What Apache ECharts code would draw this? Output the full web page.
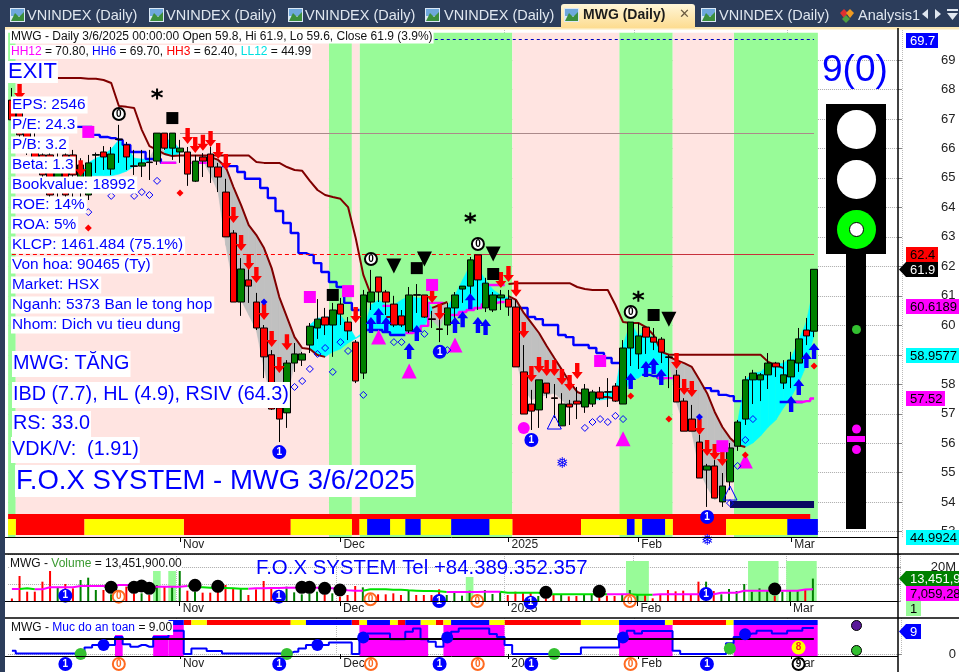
<!DOCTYPE html>
<html><head><meta charset="utf-8">
<style>html,body{margin:0;padding:0;background:#fff}#c{width:959px;height:672px}</style>
<script src="https://cdn.jsdelivr.net/npm/echarts@6/dist/echarts.min.js"></script>
</head><body><div id="c"></div>
<script>
const SLOTS = 117, BARS = 106;
const tickIndex = [22, 43, 65, 82, 102];
const tickText = ['Nov', 'Dec', '2025', 'Feb', 'Mar'];
const priceTicks = [53,54,55,56,57,58,59,60,61,62,63,64,65,66,67,68,69];

// open, close, low, high
const candles = [
[67.64,66.97,66.73,68.05],[67.30,66.46,66.22,67.81],[66.63,65.95,65.78,66.97],[66.29,65.67,65.44,66.63],[65.78,65.10,64.76,66.02],
[65.78,64.42,64.25,65.95],[64.97,65.61,64.32,65.95],[65.78,64.42,64.25,65.95],[65.78,65.10,64.32,65.95],[64.66,65.44,64.32,65.67],
[64.42,65.51,64.25,65.78],[65.77,65.79,65.17,65.86],[65.88,65.71,65.27,66.08],[65.30,65.81,65.10,66.05],[66.32,66.30,65.51,66.80],
[66.12,65.71,65.27,66.22],[65.41,65.39,65.10,65.95],[65.40,65.51,65.03,65.95],[65.54,65.52,64.93,65.95],[65.57,66.52,65.44,66.52],
[66.52,66.01,65.95,66.52],[66.01,66.52,65.61,66.52],[65.88,66.01,65.51,66.29],[65.88,65.13,64.73,66.05],[64.89,65.57,64.86,65.78],
[65.71,65.57,65.03,65.84],[65.81,65.37,64.83,66.05],[65.37,65.03,64.52,65.51],[64.52,63.00,63.00,64.97],[63.13,60.79,60.79,63.23],
[60.79,61.91,60.32,62.28],[61.54,61.33,60.76,61.91],[60.79,59.91,59.84,61.10],[59.91,58.93,58.21,60.01],[59.00,57.16,57.13,59.16],
[57.20,56.82,56.04,57.47],[57.03,58.72,56.52,58.82],[58.72,59.03,58.42,59.40],[58.82,59.03,58.62,59.10],[59.33,59.97,59.06,60.08],
[59.91,60.21,59.54,60.89],[60.28,60.01,59.67,60.59],[60.01,60.52,58.93,60.76],[60.72,60.38,60.01,60.93],[60.11,59.81,59.50,60.28],
[59.43,58.11,58.04,59.50],[58.38,61.03,58.18,61.20],[60.79,61.13,60.52,61.88],[61.64,61.13,60.79,61.64],[61.13,60.79,60.35,61.20],
[60.72,60.01,59.94,61.00],[60.32,60.01,59.94,60.52],[59.81,61.03,59.74,61.30],[61.04,61.02,60.42,61.40],[61.03,60.28,60.25,61.03],
[60.22,60.20,59.91,60.49],[59.88,59.86,59.43,60.25],[60.01,60.59,59.67,60.76],[60.59,61.03,60.18,61.13],[61.23,61.33,60.76,61.33],
[61.33,62.22,60.62,62.32],[62.39,61.54,60.52,62.39],[60.59,61.43,60.45,61.61],[60.52,61.03,60.45,61.13],[60.93,61.03,60.52,61.20],
[60.89,60.62,60.32,61.20],[60.62,58.59,58.59,60.86],[58.42,56.99,56.99,59.33],[57.33,57.09,56.45,57.81],[57.13,58.15,56.52,58.15],
[58.04,57.70,57.53,58.04],[57.54,57.52,56.86,58.01],[56.59,57.33,56.59,57.70],[57.33,57.23,56.62,57.47],[57.43,57.33,56.82,57.91],
[57.23,57.84,57.03,58.01],[57.33,57.74,57.23,57.81],[57.74,57.53,57.47,57.91],[57.75,57.73,57.23,58.21],[57.94,57.43,57.40,58.04],
[57.33,59.23,57.33,59.50],[59.23,60.11,58.62,60.11],[59.03,59.64,58.52,60.08],[59.94,59.60,59.03,59.94],[59.60,59.43,59.16,59.91],
[59.53,59.09,58.72,59.60],[58.93,58.91,57.87,59.00],[58.31,57.40,57.40,58.49],[57.43,56.41,56.41,57.53],[56.82,56.41,56.41,57.30],
[56.04,54.82,54.82,56.28],[55.09,55.23,53.84,55.30],[55.23,54.14,54.14,55.43],[54.01,54.55,53.84,54.99],[54.69,55.84,54.41,56.01],
[55.90,56.72,55.74,56.79],[56.82,58.15,56.62,58.28],[58.15,58.38,57.33,58.49],[58.15,58.32,57.43,58.38],[58.32,58.72,57.84,59.06],
[58.72,58.59,58.25,58.76],[58.04,58.32,57.84,58.82],[58.25,58.82,57.87,59.10],[58.72,59.54,58.42,59.91],[59.84,59.64,59.33,60.25],
[59.8,61.9,59.6,61.9]];

// [bar, price]
const stopUpper = [[6,68.39],[7,68.39],[8,68.39],[9,68.39],[10,68.36],[11,68.36],[12,68.32],[13,68.22],[14,67.44],[15,67.41],[16,67.37],[17,66.63],[18,66.08],[19,65.95],[20,65.81],[21,65.74],[22,65.76],[23,65.76],[24,65.76],[25,65.76],[26,65.76],[27,65.76],[28,65.76],[29,65.76],[30,65.76],[31,65.76],[32,65.54],[33,65.51],[34,65.51],[35,65.51],[36,65.37],[37,65.27],[38,65.24],[39,64.90],[40,64.59],[41,64.42],[42,64.35],[43,64.29],[44,64.01],[45,62.96],[46,61.71],[47,61.03],[49,60.28],[50,60.28],[55,60.59],[56,60.69],[57,60.79],[65,61.40],[66,61.43],[67,61.43],[68,61.43],[69,61.43],[70,61.43],[71,61.43],[72,61.43],[73,61.43],[74,61.30],[75,61.23],[76,61.20],[77,61.20],[78,61.20],[79,60.69],[80,60.11],[81,60.08],[82,60.08],[83,59.94],[84,59.67],[85,59.10],[86,59.00],[87,59.00],[88,59.00],[89,59.00],[90,59.00],[91,59.00],[92,59.00],[93,59.00],[94,59.00],[95,59.00],[96,59.00],[97,59.00],[98,59.00],[99,58.76],[100,58.65],[101,58.55]];
const stopLower = [[26,65.71],[27,65.61],[28,65.37],[29,64.69],[30,64.08],[31,63.40],[32,63.06],[33,62.62],[34,61.94],[35,60.96],[36,60.28],[37,59.60],[38,59.23],[39,59.20],[40,58.99],[41,58.93],[65,60.99],[66,60.86],[67,60.42],[68,60.08],[69,59.74],[70,59.30],[71,58.89],[72,58.49],[73,58.08],[74,57.74],[75,57.64],[76,57.60],[77,57.57],[78,57.57],[79,57.50],[86,58.93],[87,58.82],[88,58.72],[89,58.59],[90,58.15],[91,57.70],[92,57.06],[93,56.55],[94,56.18],[95,55.94],[96,55.87]];
const blueStep = [[9,66.73],[10,66.73],[11,66.46],[12,66.39],[13,66.35],[14,66.29],[15,66.12],[16,65.88],[17,65.88],[18,65.64],[19,65.64],[20,65.51],[21,65.51],[28,65.40],[29,65.40],[30,65.20],[31,64.97],[32,64.97],[33,64.66],[34,64.32],[35,63.88],[36,63.47],[37,63.13],[38,62.45],[39,62.39],[40,62.11],[41,61.81],[42,61.47],[43,61.30],[44,60.76],[45,60.52],[47,59.84],[48,59.84],[49,59.77],[50,59.67],[51,59.67],[67,60.59],[68,60.28],[69,60.21],[70,60.01],[71,60.01],[72,59.67],[73,59.60],[74,59.33],[75,59.33],[76,59.23],[77,59.06],[78,58.89],[79,58.72],[83,58.32],[84,58.28],[85,58.21],[91,57.87],[92,57.77],[93,57.64],[94,57.60],[95,57.43],[101,57.40],[102,57.40],[103,57.40]];
const magentaStep = [[20,65.51],[21,65.51],[24,65.51],[25,65.51],[49,60.66],[50,60.66],[52,59.74],[53,59.80],[54,59.98],[55,60.76],[56,60.76],[58,60.35],[59,60.45],[60,60.52],[61,60.59],[62,60.72],[63,60.76],[64,60.79],[85,58.21],[86,58.21],[103,57.40],[104,57.43],[105,57.52]];
const magentaUpper = [[62,61.37],[63,61.37],[64,61.37]];

// [bar, high, low]
const greyCloud = [[18,65.67,65.61],[19,66.12,65.61],[20,65.90,65.88],
[25,65.71,65.61],[26,65.71,65.10],[27,65.61,64.52],[28,65.37,62.72],[29,64.69,61.37],[30,64.08,60.86],[31,63.40,60.35],[32,63.06,59.84],[33,62.62,58.55],[34,61.94,57.47],[35,60.96,56.89],[36,60.28,57.47],[37,59.60,58.76],[38,59.23,59.21],
[55,60.59,60.18],[56,60.69,59.91],[57,60.70,60.60],
[65,60.99,60.93],[66,60.86,58.82],[67,60.42,57.87],[68,60.08,57.47],[69,59.74,57.57],[70,59.30,57.64],[71,58.89,57.70],[72,58.49,57.47],[73,58.08,57.20],[74,57.74,57.37],[75,57.64,57.57],
[86,58.93,58.82],[87,58.82,57.37],[88,58.72,56.62],[89,58.59,56.38],[90,58.15,55.09],[91,57.70,54.51],[92,57.06,54.08],[93,56.55,54.41],[94,56.18,55.60],[95,55.94,55.92]];
const cyanCloud = [[9,65.13,65.07],[10,65.51,65.07],[11,65.67,65.07],[12,65.78,65.07],[13,65.98,65.07],[14,66.29,65.13],[15,66.08,65.23],[16,65.67,65.40],[17,65.64,65.51],[18,65.61,65.57],
[20,66.29,65.78],[21,66.29,65.74],[22,65.95,65.84],
[39,60.01,59.23],[40,60.25,58.99],[41,60.25,58.93],[42,60.35,59.10],[43,60.35,59.20],[44,60.01,59.40],[45,59.57,59.55],
[46,59.77,59.70],[47,60.69,59.91],[48,60.86,59.84],[49,60.69,59.77],[50,60.69,59.67],[51,60.86,59.67],[52,60.99,59.74],[53,60.93,59.80],[54,60.93,59.98],[55,60.59,60.52],
[57,60.62,60.00],[58,61.03,60.32],[59,61.54,60.45],[60,62.05,60.52],[61,61.94,60.59],[62,61.54,60.72],[63,61.20,60.79],[64,61.03,60.86],[65,60.93,60.86],
[76,57.74,57.47],[77,57.57,57.47],[78,57.74,57.50],[79,57.81,57.57],[80,59.33,57.63],[81,60.11,58.15],[82,59.64,58.21],[83,59.84,58.42],[84,59.50,58.42],[85,59.16,58.31],[86,58.89,58.21],
[95,56.72,56.01],[96,58.15,55.87],[97,58.38,56.01],[98,58.42,56.25],[99,58.65,56.55],[100,58.65,56.79],[101,58.72,57.20],[102,58.89,57.57],[103,59.50,58.04],[104,60.11,58.65],[105,61.37,59.67]];

// markers: [bar, price]
const redArrows = [[1,67.91],[9,65.33],[23,66.42],[24,66.12],[25,66.19],[26,66.32],[27,65.91],[28,65.54],[29,63.74],[30,62.79],[31,62.15],[32,61.71],[33,60.45],[34,59.54],[35,58.65],[36,59.43],[45,60.35],[55,61.03],[56,60.45],[64,61.54],[65,61.74],[66,61.24],[67,59.84],[68,58.35],[69,58.65],[70,58.55],[71,58.55],[72,58.25],[73,58.04],[74,58.45],[87,58.79],[88,57.91],[89,57.84],[90,56.55],[91,55.84],[92,55.70],[93,55.50]];
const blueArrows = [[47,60.01],[48,60.32],[49,60.01],[52,59.13],[53,59.74],[58,60.01],[59,60.21],[60,60.82],[61,60.01],[62,59.94],[81,58.11],[83,58.52],[84,58.62],[85,58.25],[102,57.33],[103,57.91],[104,58.82],[105,59.13]];
const blackSquares = [[21,67.03],[42,61.03],[53,61.94],[63,61.74],[84,60.35]];
const blackTriangles = [[50,62.01],[54,62.25],[63,62.42],[86,60.21]];
const asterisks = [[19,67.85],[60,63.64],[82,60.99]];
const zeroBadges = [[14,67.17],[47,62.25],[61,62.76],[81,60.45]];
const oneBadges = [[35,55.70],[56,59.10],[68,56.11],[91,53.50]];
const magentaSquares = [[10,66.56],[39,60.96],[44,61.16],[55,61.37],[77,58.79],[93,55.90]];
const magentaTriangles = [[48,59.60],[52,58.45],[58,59.33],[80,56.15],[96,55.40]];
const magentaDots = [[67,56.52]];
const hollowTriangles = [[71,56.72],[94,54.31]];
const redDiamonds = [[22,64.49],[10,63.30],[81,57.60],[86,56.82],[105,58.62],[96,55.60]];
const blueDiamonds = [[33,60.79],[90,56.89]];
const hollowDiamonds = [[19,64.90],[13,64.39],[16,64.39],[17,64.52],[18,64.42],[10,63.84],[37,57.91],[38,58.11],[39,58.52],[40,59.03],[41,59.23],[43,59.43],[44,59.13],[42,58.42],[46,57.64],[50,59.43],[51,59.43],[54,59.71],[57,59.16],[75,56.52],[76,56.72],[77,56.82],[78,56.72],[79,56.93],[80,56.82],[97,56.82],[96,56.11],[95,55.23],[94,53.97]];
const snowflakes = [[72,55.30],[91,52.68]];

// regime bands and strips: [first bar, last bar]
const greenBands = [[0,0],[42,44],[46,65],[80,86],[95,105]];
const pinkBands = [[1,41],[45,45],[66,79],[87,94]];
const stripRed = [[1,9],[23,36],[45,45],[66,74],[87,93]];
const stripYellow = [[0,0],[10,22],[37,44],[46,46],[50,51],[54,57],[63,65],[75,80],[82,82],[86,86],[94,101]];
const stripBlue = [[47,49],[52,53],[58,62],[81,81],[83,85],[102,105]];
const hh12Line = 66.52, hh6Line = 69.7, hh3Line = 62.4;

// volume, millions
const volumes = [1.5,15,5.6,5.6,11.6,18,8.2,10.2,7.6,12.6,14,6.6,6.6,4,5.6,8.6,4.6,4.6,3.6,9.6,8.6,8.6,18,6.2,5.6,5,5,7,9.6,7.6,7.2,3.6,7,12,7.6,5.6,8.6,5.2,4,4.6,5.6,4,4.6,2.6,3.6,9,8.2,4.6,4,4,4.6,3.6,6.2,3.6,3.6,3.6,7,3.6,5.6,3.2,6.2,4,6.6,4.2,5.4,3.6,5.6,5.2,5,3,1.6,4,3.6,2.8,3,3.8,3.6,3,3.2,3,3.8,6.6,3.6,3.6,1.6,3.6,6.6,5.8,6.2,4.2,11.6,11.6,6,4,7.2,6,10.2,5.6,7.6,6.6,3,5.6,6.2,6.6,7.2,13.45];
const volumeAvg = [7.2,7.2,7.6,7,7,8.2,8.2,8.2,8.2,9,9,9,9,8.2,9.6,9.6,9.6,8.2,8.2,8.6,8.6,8.6,8.6,9,8.4,8.2,8,8,7.8,7.6,7.4,7.4,7.6,7.6,7.8,7.8,8,8,8,8,8,7.8,7.6,7,6.4,6.2,6.2,7,7,7,6.8,6.8,6.4,6.2,6,6,5.8,5.4,5.4,5.4,5.4,5.4,5.6,5.6,5.6,5,5,5,5,5,4,4,4,4,4,4,4,4,4,4,4,4,3.8,3.8,3.8,4,4,4,4,4,4,4,4,5,5,5,6.2,6.2,6.2,6.2,6.2,6.2,6.2,6.2,6.9,7.06];
const avgGreenRanges = [[1,3],[12,13],[23,31],[46,57],[64,78],[81,84]];
const volumeDots = [[13,8.2],[16,8.2],[17,9],[18,7.6],[24,9.4],[27,8.8],[38,8.2],[39,8.2],[41,7.6],[43,6.6],[70,5.2],[77,5.8],[100,7.2]];
const volumeOnes = [[7,3.2],[35,2.6],[56,0],[68,-1],[91,4.2]];
const volumeZeros = [[14,2.6],[47,1],[61,0],[81,0]];
// first bar, last bar, top of pale block
const volumeBlocks = [[19,19,18],[21,21,18],[60,60,14.4],[81,83,24],[97,100,24],[102,105,24]];

// safety score
const safety = [1.1,.2,.2,.2,.2,.2,.2,.2,.2,.2,2.2,3.1,3.1,3.1,5.9,3.4,2.5,3.1,2.5,5.9,5.9,8,8,0,1.9,1.9,1,1,.2,.2,.2,.2,.2,.2,.2,.2,.2,.8,1.9,3.1,3.1,3.1,4,4,4,0,5.7,7.1,7.1,7.1,5.1,5.1,7.7,8.8,5.1,4.2,2.5,5.7,7.7,8.8,8.8,8.8,8.8,6.9,5.9,3.1,0,0,0,0,0,0,0,0,0,2.2,2.2,2.2,2.2,2.2,5.7,8,7.1,7.9,7.9,7.9,7.9,1.1,0,0,0,0,0,0,3.7,5.9,6.8,7.1,8,8,7.1,7.1,8,8,9,9];
const safetyLine = 5.3;
const safetyBlocks = [[14,14,6.6],[19,20,6.6],[21,22,10],[46,54,10],[57,64,10],[80,86,10],[95,105,10]];
const safetyRed = [[23,23],[26,36],[45,45],[51,51],[56,56],[65,74],[87,93]];
const safetyYellow = [[24,25],[37,38],[46,46],[50,50],[54,55],[57,57],[63,64],[75,79],[86,86],[94,94]];
const safetyBlue = [[21,22],[39,44],[47,49],[52,53],[58,62],[80,85],[95,105]];
const safetyGreenDots = [[9,0],[36,0],[71,0],[94,1.9]];
const safetyBlueDots = [[12,3.1],[40,3.1],[46,5.7],[57,5.7],[80,5.7],[96,6.8]];
const safetyEight = [[103,2.2]];
const belowOnes = [[7,-3.45],[35,-3.45],[56,-3.45],[68,-3.45],[91,-3.45]];
const belowZeros = [[14,-3.45],[47,-3.45],[61,-3.45],[81,-3.45]];
const belowNine = [[103,-3.45]];

// text
const infoRows = ['EPS: 2546','P/E: 24.3','P/B: 3.2','Beta: 1.3','Bookvalue: 18992','ROE: 14%','ROA: 5%','KLCP: 1461.484 (75.1%)','Von hoa: 90465 (Ty)','Market: HSX','Nganh: 5373 Ban le tong hop','Nhom: Dich vu tieu dung'];
const tabTitles = ['VNINDEX (Daily)','VNINDEX (Daily)','VNINDEX (Daily)','VNINDEX (Daily)','MWG (Daily)','VNINDEX (Daily)','Analysis1'];

// ---------------------------------------------------------
const F = '"Liberation Sans", Arial, sans-serif';
const categories = Array.from({length: SLOTS}, (_, i) => { const k = tickIndex.indexOf(i); return k >= 0 ? tickText[k] : ''; });
const BLUE = '#0000ff', MAG = '#ff00ff', GREEN = '#98fb98', PINK = '#ffe4e1', DKRED = '#800000';
const toSlots = pairs => { const a = new Array(BARS).fill(null); pairs.forEach(p => { a[p[0]] = p[1]; }); return a; };
const PRICE_TOP = 70.085, PRICE_BOTTOM = 52.82, BAND_TOP = 69.92;

function ranges(list, top, bottom, color, xi, yi, z, name) {
  return { type: 'custom', name: name, xAxisIndex: xi, yAxisIndex: yi, z: z, silent: true, data: list.map((r, k) => [r[0], r[1], r[2] !== undefined ? r[2] : top]),
    renderItem: (p, api) => {
      const a = api.coord([api.value(0), api.value(2)]), b = api.coord([api.value(1), bottom]), w = api.size([1, 0])[0];
      return { type: 'rect', shape: { x: a[0] - w / 2, y: a[1], width: b[0] - a[0] + w, height: b[1] - a[1] }, style: { fill: color } };
    } };
}
function cloud(list, color, z) {
  return { type: 'custom', z: z, silent: true, data: list.map(r => r),
    renderItem: (p, api) => {
      const k = p.dataIndex, r = list[k], n = list[k + 1];
      if (!n || n[0] !== r[0] + 1) return null;
      const pts = [api.coord([r[0], r[1]]), api.coord([n[0], n[1]]), api.coord([n[0], n[2]]), api.coord([r[0], r[2]])];
      return { type: 'polygon', shape: { points: pts }, style: { fill: color, stroke: color, lineWidth: 0.6 } };
    } };
}
function scatter(data, symbol, size, style, extra, xi, yi) {
  return Object.assign({ type: 'scatter', clip: false, data: data, symbol: symbol, symbolSize: size, itemStyle: Object.assign({ opacity: 1 }, style), xAxisIndex: xi || 0, yAxisIndex: yi || 0, z: 8, silent: true }, extra || {});
}
function badge(data, text, fill, border, color, xi, yi, size, z) {
  return scatter(data, 'circle', size || 12, { color: fill, borderColor: border, borderWidth: 2 }, { z: z || 9,
    label: { show: true, position: 'inside', formatter: text, color: color, fontFamily: F, fontSize: 10, fontWeight: 'bold', padding: 0 } }, xi, yi);
}
function stepLine(data, color, width, xi, yi, z, step) {
  return { type: 'line', data: data, xAxisIndex: xi || 0, yAxisIndex: yi || 0, symbol: 'none', step: step === undefined ? 'middle' : step, z: z || 5, silent: true, connectNulls: false, lineStyle: { color: color, width: width }, animation: false };
}

const avgGreen = volumeAvg.map((v, i) => avgGreenRanges.some(r => i >= r[0] && i <= r[1]) ? v : null);
const avgMag = volumeAvg.map((v, i) => {
  const inG = avgGreenRanges.some(r => i >= r[0] && i <= r[1]);
  const endG = avgGreenRanges.some(r => i === r[0] || i === r[1]);
  return (!inG || endG) ? v : null;
});

const series = [
  ranges(greenBands, BAND_TOP, PRICE_BOTTOM, GREEN, 0, 0, 1),
  ranges(pinkBands, BAND_TOP, PRICE_BOTTOM, PINK, 0, 0, 1),
  cloud(greyCloud, '#c0c0c0', 2),
  cloud(cyanCloud, '#00ffff', 2),
  ranges([[0, 104]], 53.60, 53.43, '#ff0000', 0, 0, 3),
  ranges(stripRed, 53.43, 52.89, '#ff0000', 0, 0, 3),
  ranges(stripYellow, 53.43, 52.89, '#ffff00', 0, 0, 3),
  ranges(stripBlue, 53.43, 52.89, '#0000ff', 0, 0, 3),
  { type: 'custom', z: 6, silent: true, data: [[94, 105, 54.04, 53.80]], renderItem: (p, api) => {
      const a = api.coord([api.value(0), api.value(2)]), b = api.coord([api.value(1), api.value(3)]);
      return { type: 'rect', shape: { x: a[0], y: a[1], width: b[0] - a[0], height: b[1] - a[1] }, style: { fill: '#0a0a60' } };
    } },
  { type: 'line', data: [], z: 4, silent: true, markLine: { silent: true, symbol: 'none', label: { show: false }, animation: false, data: [
      [{ coord: [22, hh12Line], lineStyle: { color: '#ab8a8a', width: 1, type: 'solid' } }, { coord: [105, hh12Line] }],
      [{ coord: [0, hh3Line], lineStyle: { color: '#ff0000', width: 1, type: [4, 3] } }, { coord: [61, hh3Line] }],
      [{ coord: [61, hh3Line], lineStyle: { color: '#c8303c', width: 1, type: 'solid' } }, { coord: [105, hh3Line] }],
      [{ coord: [42, hh6Line], lineStyle: { color: '#0000c0', width: 1, type: [3, 3] } }, { coord: [105, hh6Line] }]
    ] } },
  stepLine(toSlots(blueStep), BLUE, 2.4, 0, 0, 4),
  stepLine(toSlots(magentaStep), MAG, 2.4, 0, 0, 4),
  stepLine(toSlots(magentaUpper), MAG, 2.4, 0, 0, 4),
  stepLine(toSlots(stopUpper), DKRED, 2, 0, 0, 4, false),
  stepLine(toSlots(stopLower), DKRED, 2, 0, 0, 4, false),
  { type: 'candlestick', data: candles, z: 5, silent: true, barWidth: 7,
    itemStyle: { color: '#008000', color0: '#ff0000', borderColor: '#000', borderColor0: '#000', borderWidth: 1 } },
  scatter(redArrows, 'path://M3,0 L7,0 L7,9 L10,9 L5,16 L0,9 L3,9 Z', [11, 16], { color: '#ff0000' }),
  scatter(blueArrows, 'path://M5,0 L10,7 L7,7 L7,16 L3,16 L3,7 L0,7 Z', [11, 16], { color: BLUE }),
  scatter(blackSquares, 'rect', 12, { color: '#000' }),
  scatter(blackTriangles, 'triangle', 15, { color: '#000' }, { symbolRotate: 180 }),
  scatter(asterisks, 'path://M5,0 L5,10 M0.7,2.5 L9.3,7.5 M0.7,7.5 L9.3,2.5', 11, { color: 'none', borderColor: '#000', borderWidth: 2 }),
  scatter(magentaSquares, 'rect', 12, { color: MAG }),
  scatter(magentaTriangles, 'triangle', 15, { color: MAG }),
  scatter(magentaDots, 'circle', 12, { color: MAG }),
  scatter(hollowTriangles, 'triangle', 14, { color: 'none', borderColor: BLUE, borderWidth: 1 }),
  scatter(redDiamonds, 'diamond', 7, { color: '#ff0000' }),
  scatter(blueDiamonds, 'diamond', 7, { color: BLUE }),
  scatter(hollowDiamonds, 'diamond', 7, { color: 'none', borderColor: BLUE, borderWidth: 1 }),
  scatter(snowflakes, 'circle', 1, { color: 'transparent' }, { label: { show: true, position: 'inside', formatter: '\u2745', color: BLUE, fontFamily: '"DejaVu Sans"', fontSize: 15 } }),
  badge(zeroBadges, '0', '#fff', '#000', '#000', 0, 0),
  badge(oneBadges, '1', BLUE, BLUE, '#fff', 0, 0),
  // volume pane
  ranges(volumeBlocks, 0, 0, GREEN, 1, 1, 1),
  { type: 'bar', xAxisIndex: 1, yAxisIndex: 1, z: 3, silent: true, barWidth: 2, data: volumes.map((v, i) => ({ value: v, itemStyle: { color: candles[i][1] >= candles[i][0] ? '#008000' : '#ff0000' } })) },
  stepLine(avgGreen, '#00e000', 2, 1, 1, 4, false),
  stepLine(avgMag, MAG, 2, 1, 1, 4, false),
  scatter(volumeDots, 'circle', 13, { color: '#000' }, {}, 1, 1),
  badge(volumeOnes, '1', BLUE, BLUE, '#fff', 1, 1),
  badge(volumeZeros, '0', '#fff', '#ff6a20', '#ff6a20', 1, 1),
  // safety pane
  ranges(safetyBlocks, 10, 0 - 0.69, MAG, 2, 2, 1),
  ranges(safetyRed, 11.72, 10, '#ff0000', 2, 2, 2),
  ranges(safetyYellow, 11.72, 10, '#ffff00', 2, 2, 2),
  ranges(safetyBlue, 11.72, 10, BLUE, 2, 2, 2),
  { type: 'line', xAxisIndex: 2, yAxisIndex: 2, data: [], z: 3, silent: true, markLine: { silent: true, symbol: 'none', label: { show: false }, animation: false, data: [[{ coord: [1, safetyLine], lineStyle: { color: '#000', width: 2, type: 'solid' } }, { coord: [105, safetyLine] }]] } },
  stepLine(safety, BLUE, 2, 2, 2, 4),
  scatter(safetyGreenDots, 'circle', 12, { color: '#33c030' }, {}, 2, 2),
  scatter(safetyBlueDots, 'circle', 12, { color: BLUE }, {}, 2, 2),
  badge(safetyEight, '8', '#ffff00', '#ffff00', '#ff2020', 2, 2),
  badge(belowOnes, '1', BLUE, BLUE, '#fff', 2, 2),
  badge(belowZeros, '0', '#fff', '#ff6a20', '#ff6a20', 2, 2),
  badge(belowNine, '9', '#fff', '#000', '#000', 2, 2)
].map(s => Object.assign({ animation: false }, s));

// ---------------- chrome and text ----------------
const G = [];
const Z = 200;
const rect = (x, y, w, h, fill, z) => G.push({ type: 'rect', z: z || Z, silent: true, shape: { x, y, width: w, height: h }, style: { fill } });
const line = (x1, y1, x2, y2, c, w, z) => G.push({ type: 'line', z: z || Z, silent: true, shape: { x1, y1, x2, y2 }, style: { stroke: c || '#000', lineWidth: w || 1 } });
const circle = (cx, cy, r, fill, stroke, lw) => G.push({ type: 'circle', z: Z + 2, silent: true, shape: { cx, cy, r }, style: { fill, stroke: stroke || null, lineWidth: lw || 0 } });
const text = (t, x, y, font, fill, opt) => G.push({ type: 'text', z: (opt && opt.z) || Z + 3, silent: true, x, y, style: Object.assign({ text: t, font: font + ' ' + F, fill, verticalAlign: 'middle', align: 'left' }, opt || {}) });
const poly = (pts, fill) => G.push({ type: 'polygon', z: Z + 1, silent: true, shape: { points: pts }, style: { fill } });

// tab strip
rect(0, 0, 959, 27, '#2c3d5b');
rect(0, 27, 959, 2.5, '#fde9b5');
rect(0, 0, 5, 672, '#2c3d5b');
G.push({ type: 'rect', z: Z, silent: true, shape: { x: 561, y: 4, width: 134, height: 24, r: [3, 3, 0, 0] }, style: { fill: new echarts.graphic.LinearGradient(0, 0, 0, 1, [{ offset: 0, color: '#fff6d8' }, { offset: 1, color: '#fddc90' }]) } });
const tabX = [[10, 27], [149, 166], [288, 305], [425, 444], [564, 583], [701, 719]];
tabX.forEach((t, k) => {
  rect(t[0], 8, 15, 14, '#dbe8f5', Z + 1); rect(t[0] + 1, 9, 13, 7, '#6fa8dc', Z + 1);
  poly([[t[0] + 1, 21], [t[0] + 5, 13], [t[0] + 9, 17], [t[0] + 14, 12], [t[0] + 14, 21]], '#3c8f3c');
  text(tabTitles[k], t[1], 15.5, k === 4 ? 'bold 14px' : '14.5px', k === 4 ? '#1c1c1c' : '#dfe6ef');
});
text('\u2715', 679, 15, '13px', '#6a5a40', { font: '13px "DejaVu Sans"' });
poly([[840, 13], [844, 9], [848, 13], [844, 18]], '#e03030'); poly([[846, 13], [850, 9], [854, 13], [850, 18]], '#f09a20'); poly([[842, 19], [846, 15], [850, 19], [846, 23]], '#50a040');
text(tabTitles[6], 858, 15.5, '14.5px', '#dfe6ef');
poly([[922, 14], [928, 9], [928, 19]], '#dfe6ef'); poly([[935, 9], [941, 14], [935, 19]], '#dfe6ef');
rect(947, 9, 11, 2, '#dfe6ef'); poly([[947, 13], [958, 13], [952.5, 20]], '#dfe6ef');

// frame lines
line(898, 28, 898, 672, '#000', 1.5);
line(5, 537.5, 898, 537.5); line(5, 554, 959, 554, '#000', 1.5); line(5, 601.5, 898, 601.5); line(5, 618, 959, 618, '#000', 1.5); line(5, 656.5, 898, 656.5);

// headings
text('MWG - Daily 3/6/2025 00:00:00 Open 59.8, Hi 61.9, Lo 59.6, Close 61.9 (3.9%)', 10, 36.5, '12px', '#111', { backgroundColor: '#fff', padding: [1, 1] });
const rf = c => ({ fill: c, font: '12px ' + F });
text('{a|HH12}{k| = 70.80, }{b|HH6}{k| = 69.70, }{c|HH3}{k| = 62.40, }{d|LL12}{k| = 44.99}', 10, 52, '12px', '#111', { backgroundColor: '#fff', padding: [1, 1],
  rich: { a: rf(MAG), b: rf(BLUE), c: rf('#ff0000'), d: rf('#00e0e0'), k: rf('#111') } });
text('EXIT', 7, 72, '22px', BLUE, { backgroundColor: '#fff', padding: [0, 1] });
infoRows.forEach((r, k) => text(r, 11, 105 + k * 20, '15.4px', BLUE, { backgroundColor: '#fff', padding: [1, 2, 1, 1] }));
text('MWG: T\u0102NG', 12, 364, '19.8px', BLUE, { backgroundColor: '#fff', padding: [3, 1] });
text('IBD (7.7), HL (4.9), RSIV (64.3)', 12, 395, '19.8px', BLUE, { backgroundColor: '#fff', padding: [3, 1] });
text('RS: 33.0', 12, 424, '19.8px', BLUE, { backgroundColor: '#fff', padding: [3, 1] });
text('VDK/V:  (1.91)', 11, 450, '19.8px', BLUE, { backgroundColor: '#fff', padding: [3, 1] });
text('F.O.X SYSTEM - MWG 3/6/2025', 15, 481, '27.5px', BLUE, { backgroundColor: '#fff', padding: [2, 1] });
text('9(0)', 822, 71, '37px', BLUE);

// traffic light
rect(826, 104, 60, 150, '#000', Z + 1); rect(846, 254, 20, 275, '#000', Z + 1);
circle(856.5, 129.5, 19.5, '#fff'); circle(856.5, 179.5, 19.5, '#fff'); circle(856.5, 229.5, 19.5, '#00ff00');
circle(856.5, 229.5, 7, '#fff', '#000', 1);
circle(856.5, 329.5, 4.5, '#33c030'); circle(856.5, 429, 4.5, MAG); circle(856.5, 449.5, 4.5, MAG);
rect(847, 436, 18, 6, MAG, Z + 2);
circle(856.5, 625.5, 5, '#5a1a9a', '#000', 1); circle(856.5, 650.5, 5, '#33c030', '#000', 1);

// price tags
const tag = (t, x, y, w, h, bg, fg) => { rect(x, y, w, h, bg, Z + 1); text(t, x + 4, y + h / 2 + 0.5, '13px', fg); };
tag('69.7', 906, 33, 32, 15, BLUE, '#fff');
tag('62.4', 906, 247, 32, 15, '#ff0000', '#000');
tag('61.9', 906, 262, 32, 15, '#000', '#fff');
poly([[899, 269.5], [906, 262], [906, 277]], '#000');
tag('60.6189', 906, 299, 53, 15, MAG, '#000');
tag('58.9577', 906, 348, 53, 15, '#00ffff', '#000');
tag('57.52', 906, 391, 39, 15, MAG, '#000');
tag('44.9924', 906, 530, 53, 15, '#00ffff', '#000');
tag('13,451,900', 906, 571, 53, 15, '#008000', '#fff');
poly([[899, 578.5], [906, 571], [906, 586]], '#008000');
tag('7,059,285', 906, 586, 53, 15, MAG, '#000');
tag('1', 906, 601, 15, 15, GREEN, '#000');
tag('9', 906, 624, 15, 15, BLUE, '#fff');
poly([[899, 631.5], [906, 624], [906, 639]], BLUE);

// pane headings
text('MWG - {v|Volume}{k| = 13,451,900.00}', 10, 563.5, '12px', '#111', { backgroundColor: '#fff', rich: { v: rf('#3a9a30'), k: rf('#111') } });
text('F.O.X SYSTEM Tel +84.389.352.357', 256, 568, '20.4px', BLUE);
text('MWG - {v|Muc do an toan}{k| = 9.00}', 10, 628, '12px', '#111', { backgroundColor: '#fff', padding: [1, 1], rich: { v: rf(BLUE), k: rf('#111') } });

// ---------------- axes ----------------
const xAxisFor = (g) => ({
  type: 'category', gridIndex: g, data: categories, boundaryGap: true,
  axisLine: { show: false },
  axisTick: { show: true, alignWithLabel: true, length: 5, interval: i => tickIndex.includes(i), lineStyle: { color: '#000' } },
  axisLabel: { show: true, interval: i => tickIndex.includes(i), align: 'left', margin: 2, padding: [0, 0, 0, 3], color: '#222', fontFamily: F, fontSize: 12, lineHeight: 12,
    formatter: v => v, fontWeight: 'normal' },
  splitLine: { show: true, interval: i => tickIndex.includes(i), lineStyle: { color: '#bbb', type: 'dotted' } }
});
const yAxisFor = (g, min, max, margin, extra) => Object.assign({
  type: 'value', gridIndex: g, position: 'right', offset: -3.9, min, max, scale: true,
  axisLine: { show: false },
  axisTick: { show: true, length: 4, lineStyle: { color: '#888' } },
  axisLabel: { show: true, margin, color: '#222', fontFamily: F, fontSize: 13, align: 'left' },
  splitLine: { show: true, lineStyle: { color: '#aaa', type: 'dotted' } }
}, extra);

const option = {
  animation: false, backgroundColor: '#fff',
  grid: [
    { left: 8.1, width: 893.8, top: 28, height: 509 },
    { left: 8.1, width: 893.8, top: 554, height: 47 },
    { left: 8.1, width: 893.8, top: 618, height: 38 }
  ],
  xAxis: [xAxisFor(0), xAxisFor(1), xAxisFor(2)],
  yAxis: [
    yAxisFor(0, PRICE_BOTTOM, PRICE_TOP, 43, {
      axisTick: { show: true, length: 4, lineStyle: { color: '#888' }, customValues: priceTicks },
      axisLabel: { show: true, margin: 43, color: '#222', fontFamily: F, fontSize: 13, align: 'left', customValues: priceTicks, formatter: v => String(v) }
    }),
    yAxisFor(1, 0, 28.2, 34, { interval: 10, axisLabel: { show: true, margin: 34, color: '#222', fontFamily: F, fontSize: 13, align: 'left', formatter: v => v === 20 ? '20M' : '' } }),
    yAxisFor(2, -0.69, 12.41, 51, {
      axisTick: { show: true, length: 4, lineStyle: { color: '#888' }, customValues: [0] },
      axisLabel: { show: true, margin: 51, color: '#222', fontFamily: F, fontSize: 13, align: 'left', customValues: [0], formatter: v => String(v) }
    })
  ],
  series: series,
  graphic: { elements: G }
};
echarts.init(document.getElementById('c'), null, { renderer: 'canvas' }).setOption(option);
</script></body></html>
